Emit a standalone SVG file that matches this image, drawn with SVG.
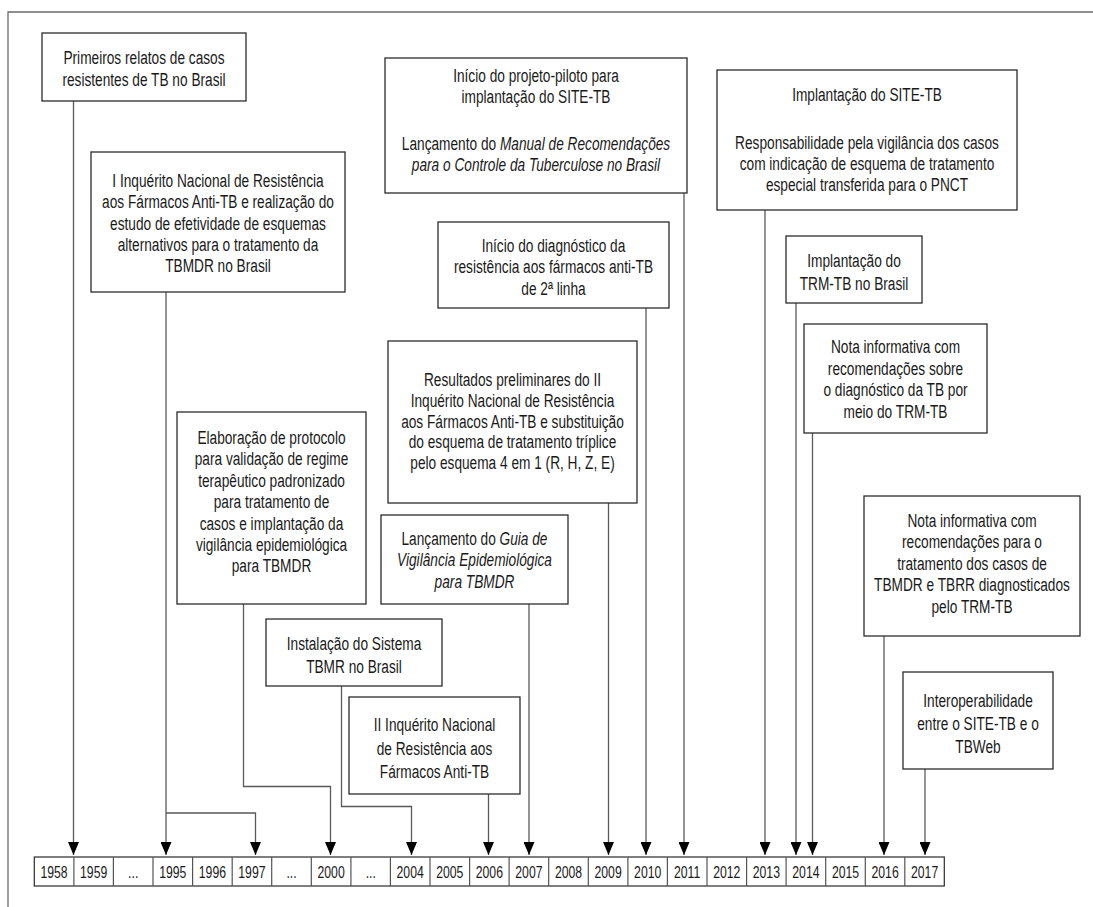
<svg xmlns="http://www.w3.org/2000/svg" width="1093" height="907" viewBox="0 0 1093 907">
<defs>
<style>
.box{fill:#fff;stroke:#2b2b2b;stroke-width:1.3}
.t{font-family:"Liberation Sans",Arial,sans-serif;font-size:19px;fill:#1a1a1a;text-anchor:middle}
.y{font-family:"Liberation Sans",Arial,sans-serif;font-size:17px;fill:#1a1a1a;text-anchor:middle}
.i{font-style:italic}
.c{fill:none;stroke:#5a5a5a;stroke-width:1.3}
.frame{fill:none;stroke:#6a6a6a;stroke-width:1.3}
.cell{fill:#fff;stroke:#2b2b2b;stroke-width:1.2}
.div{stroke:#555;stroke-width:1.2}
</style>
<marker id="ah" markerUnits="userSpaceOnUse" markerWidth="13" markerHeight="11" refX="13" refY="5.5" orient="auto">
<path d="M0,0 L13,5.5 L0,11 Z" fill="#000"/>
</marker>
</defs>
<rect width="1093" height="907" fill="#fff"/>
<path class="frame" d="M1093,12 H8 V907"/>

<g id="connectors">
<path class="c" d="M73.5,101 V855" marker-end="url(#ah)"/>
<path class="c" d="M166,292 V855" marker-end="url(#ah)"/>
<path class="c" d="M166,813 H255.5 V855" marker-end="url(#ah)"/>
<path class="c" d="M243.5,604 V786.5 H330.5 V855" marker-end="url(#ah)"/>
<path class="c" d="M341.5,686 V806.5 H411.5 V855" marker-end="url(#ah)"/>
<path class="c" d="M488.5,794 V855" marker-end="url(#ah)"/>
<path class="c" d="M529,604 V855" marker-end="url(#ah)"/>
<path class="c" d="M608.5,503 V855" marker-end="url(#ah)"/>
<path class="c" d="M646,308 V855" marker-end="url(#ah)"/>
<path class="c" d="M684,193 V855" marker-end="url(#ah)"/>
<path class="c" d="M765,210 V855" marker-end="url(#ah)"/>
<path class="c" d="M796,303 V855" marker-end="url(#ah)"/>
<path class="c" d="M812.5,433 V855" marker-end="url(#ah)"/>
<path class="c" d="M884,636 V855" marker-end="url(#ah)"/>
<path class="c" d="M925,769 V855" marker-end="url(#ah)"/>
</g>

<g id="n1">
<rect class="box" x="42" y="33" width="204" height="68"/>
<text class="t" transform="translate(144 0) scale(0.72 1)"><tspan x="0" y="64">Primeiros relatos de casos</tspan><tspan x="0" y="86.5">resistentes de TB no Brasil</tspan></text>
</g>

<g id="n2">
<rect class="box" x="91" y="152" width="254" height="140"/>
<text class="t" transform="translate(218 0) scale(0.72 1)"><tspan x="0" y="187">I Inquérito Nacional de Resistência</tspan><tspan x="0" y="208.3">aos Fármacos Anti-TB e realização do</tspan><tspan x="0" y="229.6">estudo de efetividade de esquemas</tspan><tspan x="0" y="250.9">alternativos para o tratamento da</tspan><tspan x="0" y="272.2">TBMDR no Brasil</tspan></text>
</g>

<g id="n3">
<rect class="box" x="385" y="58" width="302" height="135"/>
<text class="t" transform="translate(536 0) scale(0.72 1)"><tspan x="0" y="82">Início do projeto-piloto para</tspan><tspan x="0" y="103.5">implantação do SITE-TB</tspan><tspan x="0" y="150">Lançamento do <tspan class="i">Manual de Recomendações</tspan></tspan><tspan x="0" y="171.5" class="i">para o Controle da Tuberculose no Brasil</tspan></text>
</g>

<g id="n4">
<rect class="box" x="438" y="222" width="231" height="86"/>
<text class="t" transform="translate(553.5 0) scale(0.72 1)"><tspan x="0" y="252">Início do diagnóstico da</tspan><tspan x="0" y="273.5">resistência aos fármacos anti-TB</tspan><tspan x="0" y="295">de 2ª linha</tspan></text>
</g>

<g id="n5">
<rect class="box" x="717" y="70" width="300" height="140"/>
<text class="t" transform="translate(867 0) scale(0.72 1)"><tspan x="0" y="101">Implantação do SITE-TB</tspan><tspan x="0" y="149.5">Responsabilidade pela vigilância dos casos</tspan><tspan x="0" y="170.3">com indicação de esquema de tratamento</tspan><tspan x="0" y="191">especial transferida para o PNCT</tspan></text>
</g>

<g id="n6">
<rect class="box" x="786" y="236" width="136" height="67"/>
<text class="t" transform="translate(854 0) scale(0.72 1)"><tspan x="0" y="267">Implantação do</tspan><tspan x="0" y="290">TRM-TB no Brasil</tspan></text>
</g>

<g id="n7">
<rect class="box" x="804" y="324" width="183" height="109"/>
<text class="t" transform="translate(895.5 0) scale(0.72 1)"><tspan x="0" y="353.5">Nota informativa com</tspan><tspan x="0" y="375">recomendações sobre</tspan><tspan x="0" y="396.5">o diagnóstico da TB por</tspan><tspan x="0" y="418">meio do TRM-TB</tspan></text>
</g>

<g id="n8">
<rect class="box" x="864" y="496" width="216" height="140"/>
<text class="t" transform="translate(972 0) scale(0.72 1)"><tspan x="0" y="527">Nota informativa com</tspan><tspan x="0" y="548.5">recomendações para o</tspan><tspan x="0" y="570">tratamento dos casos de</tspan><tspan x="0" y="591.5">TBMDR e TBRR diagnosticados</tspan><tspan x="0" y="613">pelo TRM-TB</tspan></text>
</g>

<g id="n9">
<rect class="box" x="903" y="672" width="150" height="97"/>
<text class="t" transform="translate(978 0) scale(0.72 1)"><tspan x="0" y="707">Interoperabilidade</tspan><tspan x="0" y="730">entre o SITE-TB e o</tspan><tspan x="0" y="753">TBWeb</tspan></text>
</g>

<g id="n10">
<rect class="box" x="388" y="341" width="249" height="162"/>
<text class="t" transform="translate(512.5 0) scale(0.72 1)"><tspan x="0" y="386">Resultados preliminares do II</tspan><tspan x="0" y="407">Inquérito Nacional de Resistência</tspan><tspan x="0" y="428">aos Fármacos Anti-TB e substituição</tspan><tspan x="0" y="448.5">do esquema de tratamento tríplice</tspan><tspan x="0" y="469">pelo esquema 4 em 1 (R, H, Z, E)</tspan></text>
</g>

<g id="n11">
<rect class="box" x="381" y="515" width="187" height="89"/>
<text class="t" transform="translate(474.5 0) scale(0.72 1)"><tspan x="0" y="545">Lançamento do <tspan class="i">Guia de</tspan></tspan><tspan x="0" y="566.5" class="i">Vigilância Epidemiológica</tspan><tspan x="0" y="588" class="i">para TBMDR</tspan></text>
</g>

<g id="n12">
<rect class="box" x="177" y="412" width="189" height="192"/>
<text class="t" transform="translate(271.5 0) scale(0.72 1)"><tspan x="0" y="444">Elaboração de protocolo</tspan><tspan x="0" y="465.5">para validação de regime</tspan><tspan x="0" y="487">terapêutico padronizado</tspan><tspan x="0" y="508.5">para tratamento de</tspan><tspan x="0" y="530">casos e implantação da</tspan><tspan x="0" y="551">vigilância epidemiológica</tspan><tspan x="0" y="572">para TBMDR</tspan></text>
</g>

<g id="n13">
<rect class="box" x="266" y="619" width="176" height="67"/>
<text class="t" transform="translate(354 0) scale(0.72 1)"><tspan x="0" y="650">Instalação do Sistema</tspan><tspan x="0" y="673.5">TBMR no Brasil</tspan></text>
</g>

<g id="n14">
<rect class="box" x="349" y="697" width="171" height="97"/>
<text class="t" transform="translate(434.5 0) scale(0.72 1)"><tspan x="0" y="731">II Inquérito Nacional</tspan><tspan x="0" y="755">de Resistência aos</tspan><tspan x="0" y="778.5">Fármacos Anti-TB</tspan></text>
</g>

<g id="timeline">
<rect class="cell" x="34.3" y="857" width="910" height="29"/>
<path class="div" d="M73.9,857V886M113.4,857V886M153,857V886M192.6,857V886M232.2,857V886M271.7,857V886M311.3,857V886M350.9,857V886M390.4,857V886M430,857V886M469.6,857V886M509.1,857V886M548.7,857V886M588.3,857V886M627.9,857V886M667.4,857V886M707,857V886M746.6,857V886M786.1,857V886M825.7,857V886M865.3,857V886M904.8,857V886"/>
<text class="y" transform="scale(0.72 1)"><tspan x="75.1" y="878">1958</tspan><tspan x="130.1" y="878">1959</tspan><tspan x="185" y="878">...</tspan><tspan x="240" y="878">1995</tspan><tspan x="295" y="878">1996</tspan><tspan x="349.9" y="878">1997</tspan><tspan x="404.9" y="878">...</tspan><tspan x="459.9" y="878">2000</tspan><tspan x="514.9" y="878">...</tspan><tspan x="569.7" y="878">2004</tspan><tspan x="624.7" y="878">2005</tspan><tspan x="679.7" y="878">2006</tspan><tspan x="734.6" y="878">2007</tspan><tspan x="789.6" y="878">2008</tspan><tspan x="844.6" y="878">2009</tspan><tspan x="899.6" y="878">2010</tspan><tspan x="954.4" y="878">2011</tspan><tspan x="1009.4" y="878">2012</tspan><tspan x="1064.4" y="878">2013</tspan><tspan x="1119.3" y="878">2014</tspan><tspan x="1174.3" y="878">2015</tspan><tspan x="1229.3" y="878">2016</tspan><tspan x="1284.2" y="878">2017</tspan></text>
</g>
</svg>
